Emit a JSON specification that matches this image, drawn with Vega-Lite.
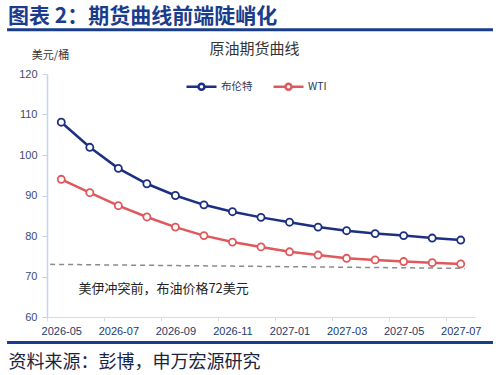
{
  "$schema": "https://vega.github.io/schema/vega-lite/v6.json",
  "autosize": "none",
  "width": 428,
  "height": 243,
  "padding": {"left": 47, "top": 74, "right": 25, "bottom": 58},
  "background": "white",
  "config": {
    "font": "Liberation Sans, Noto Sans CJK SC, sans-serif",
    "view": {"stroke": null},
    "axis": {"grid": false}
  },
  "title": {
    "text": "图表 2：期货曲线前端陡峭化",
    "anchor": "start",
    "frame": "group",
    "dx": -39,
    "offset": 1,
    "font": "Noto Sans CJK SC",
    "fontSize": 21,
    "fontWeight": "bold",
    "color": "#1a3c8c"
  },
  "datasets": {
    "series": [
      {"i": 0, "month": "2026-05", "series": "布伦特", "price": 108.1},
      {"i": 1, "month": "2026-06", "series": "布伦特", "price": 101.9},
      {"i": 2, "month": "2026-07", "series": "布伦特", "price": 96.7},
      {"i": 3, "month": "2026-08", "series": "布伦特", "price": 92.9},
      {"i": 4, "month": "2026-09", "series": "布伦特", "price": 90.0},
      {"i": 5, "month": "2026-10", "series": "布伦特", "price": 87.7},
      {"i": 6, "month": "2026-11", "series": "布伦特", "price": 86.0},
      {"i": 7, "month": "2026-12", "series": "布伦特", "price": 84.6},
      {"i": 8, "month": "2027-01", "series": "布伦特", "price": 83.4},
      {"i": 9, "month": "2027-02", "series": "布伦特", "price": 82.2},
      {"i": 10, "month": "2027-03", "series": "布伦特", "price": 81.3},
      {"i": 11, "month": "2027-04", "series": "布伦特", "price": 80.6},
      {"i": 12, "month": "2027-05", "series": "布伦特", "price": 80.1},
      {"i": 13, "month": "2027-06", "series": "布伦特", "price": 79.5},
      {"i": 14, "month": "2027-07", "series": "布伦特", "price": 79.0},
      {"i": 0, "month": "2026-05", "series": "WTI", "price": 94.0},
      {"i": 1, "month": "2026-06", "series": "WTI", "price": 90.7},
      {"i": 2, "month": "2026-07", "series": "WTI", "price": 87.5},
      {"i": 3, "month": "2026-08", "series": "WTI", "price": 84.7},
      {"i": 4, "month": "2026-09", "series": "WTI", "price": 82.2},
      {"i": 5, "month": "2026-10", "series": "WTI", "price": 80.1},
      {"i": 6, "month": "2026-11", "series": "WTI", "price": 78.5},
      {"i": 7, "month": "2026-12", "series": "WTI", "price": 77.3},
      {"i": 8, "month": "2027-01", "series": "WTI", "price": 76.1},
      {"i": 9, "month": "2027-02", "series": "WTI", "price": 75.3},
      {"i": 10, "month": "2027-03", "series": "WTI", "price": 74.5},
      {"i": 11, "month": "2027-04", "series": "WTI", "price": 74.1},
      {"i": 12, "month": "2027-05", "series": "WTI", "price": 73.7},
      {"i": 13, "month": "2027-06", "series": "WTI", "price": 73.4},
      {"i": 14, "month": "2027-07", "series": "WTI", "price": 73.1}
    ],
    "prewar": [
      {"i": -0.39, "price": 73.0},
      {"i": 14.14, "price": 72.0}
    ],
    "note": [
      {"i": 0.6, "price": 67.0, "label": "美伊冲突前，布油价格72美元"}
    ],
    "bands": [
      {"x0": -1.9, "x1": 15.13, "y": 130.9},
      {"x0": -1.9, "x1": 15.13, "y": 53.7}
    ]
  },
  "resolve": {"axis": {"x": "independent"}},
  "layer": [
    {
      "data": {"name": "prewar"},
      "mark": {"type": "line", "color": "#8a8a8a", "strokeWidth": 1.5, "strokeDash": [5, 4]},
      "encoding": {
        "x": {
          "field": "i", "type": "quantitative",
          "scale": {"domain": [-0.5, 14.5], "nice": false, "zero": false},
          "axis": {
            "orient": "top", "labels": false, "ticks": false, "domain": false,
            "title": "原油期货曲线",
            "titleFont": "Noto Sans CJK SC", "titleFontSize": 15, "titleFontWeight": "normal",
            "titleColor": "#333333", "titleX": 207, "titleY": -26,
            "titleAlign": "center", "titleBaseline": "middle"
          }
        },
        "y": {"field": "price", "type": "quantitative"}
      }
    },
    {
      "data": {"name": "series"},
      "mark": {
        "type": "line", "strokeWidth": 2.5,
        "point": {"filled": false, "fill": "white", "size": 50, "strokeWidth": 1.8}
      },
      "encoding": {
        "x": {
          "field": "i", "type": "quantitative",
          "axis": {
            "values": [0, 2, 4, 6, 8, 10, 12, 14],
            "labelExpr": "['2026-05','2026-06','2026-07','2026-08','2026-09','2026-10','2026-11','2026-12','2027-01','2027-02','2027-03','2027-04','2027-05','2027-06','2027-07'][datum.value]",
            "tickOffset": -14.27,
            "labelOffset": 14.27,
            "domainColor": "#d5dce8", "tickColor": "#d5dce8", "tickSize": 4,
            "labelColor": "#26386a", "labelFontSize": 11, "labelPadding": 4,
            "title": "资料来源：彭博，申万宏源研究",
            "titleFont": "Noto Sans CJK SC", "titleFontSize": 18, "titleFontWeight": "normal",
            "titleColor": "#1a2440", "titleX": -39, "titleY": 45,
            "titleAlign": "left", "titleBaseline": "middle"
          }
        },
        "y": {
          "field": "price", "type": "quantitative",
          "scale": {"domain": [60, 120], "nice": false, "zero": false},
          "axis": {
            "values": [60, 70, 80, 90, 100, 110, 120],
            "domainColor": "#bdd7ee", "domainWidth": 1.5,
            "tickColor": "#c5d3e6", "tickSize": 5,
            "labelColor": "#404b6e", "labelFontSize": 11, "labelPadding": 5,
            "title": "美元/桶",
            "titleAngle": 0, "titleFont": "Noto Sans CJK SC", "titleFontSize": 11,
            "titleFontWeight": "normal", "titleColor": "#333333",
            "titleX": 3, "titleY": -19, "titleAlign": "center", "titleBaseline": "middle"
          }
        },
        "color": {
          "field": "series", "type": "nominal",
          "scale": {"domain": ["布伦特", "WTI"], "range": ["#1c2f82", "#e0585c"]},
          "legend": {
            "title": null,
            "orient": "none",
            "direction": "horizontal",
            "legendX": 138,
            "legendY": -4,
            "symbolType": "M-1,0L-0.22,0M0.22,0L1,0M0.2,0A0.2,0.2,0,1,1,-0.2,0A0.2,0.2,0,1,1,0.2,0",
            "symbolSize": 900,
            "symbolStrokeWidth": 2.5,
            "labelOffset": 3,
            "columnPadding": 15,
            "labelFont": "Noto Sans CJK SC",
            "labelFontSize": 10.5,
            "labelColor": "#1f3864"
          }
        }
      }
    },
    {
      "data": {"name": "note"},
      "mark": {"type": "text", "align": "left", "baseline": "middle", "font": "Noto Sans CJK SC", "fontSize": 13, "color": "#222222"},
      "encoding": {
        "x": {"field": "i", "type": "quantitative", "axis": null},
        "y": {"field": "price", "type": "quantitative"},
        "text": {"field": "label"}
      }
    },
    {
      "data": {"name": "bands"},
      "mark": {"type": "rule", "color": "#1a3c8c", "strokeWidth": 3},
      "encoding": {
        "x": {"field": "x0", "type": "quantitative", "axis": null},
        "x2": {"field": "x1"},
        "y": {"field": "y", "type": "quantitative"}
      }
    }
  ]
}
